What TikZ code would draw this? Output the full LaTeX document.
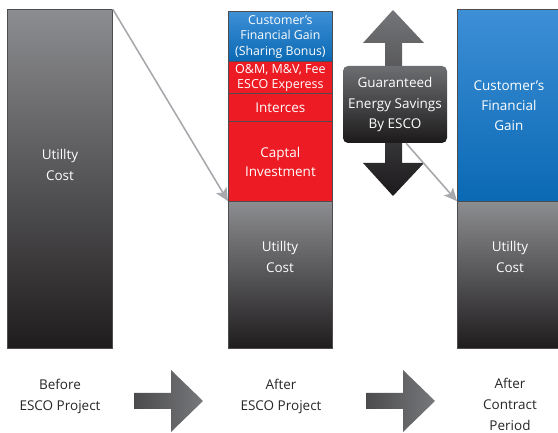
\documentclass[tikz,border=0pt]{standalone}
\usepackage{fontspec}
\setmainfont{Open Sans}
\usetikzlibrary{arrows.meta}

\definecolor{costtop}{HTML}{8C8D90}
\definecolor{costbot}{HTML}{1F1C1D}
\definecolor{gaintop}{HTML}{3D8FD6}
\definecolor{gainbot}{HTML}{0A69B3}
\definecolor{spendred}{HTML}{ED1C24}
\definecolor{linkgray}{HTML}{A7A9AC}
\definecolor{edgegray}{HTML}{4D4D4F}
\definecolor{boxtop}{HTML}{6D6E71}
\definecolor{boxbot}{HTML}{1C1A1B}
\definecolor{stagetop}{HTML}{77787B}
\definecolor{stagebot}{HTML}{4B4B4D}

\tikzset{
  seg/.style={draw=edgegray, line width=0.8pt, inner sep=0pt, anchor=south west,
    text=white, align=center, font=\fontsize{13.5}{19}\selectfont},
  cost/.style={seg, top color=costtop, bottom color=costbot},
  gain/.style={seg, top color=gaintop, bottom color=gainbot},
  spend/.style={seg, fill=spendred},
  lbl/.style={align=center, text=white, font=\fontsize{13.5}{21}\selectfont},
  stage/.style={align=center, inner sep=1pt, text=black!85,
    font=\fontsize{13.5}{21}\selectfont},
  link/.style={draw=linkgray, line width=1.6pt,
    -{Stealth[length=13pt,width=12pt,inset=3pt]}},
}

\begin{document}
\begin{tikzpicture}[x=1pt,y=1pt]
\useasboundingbox (0,0) rectangle (558,433);

% before the project
\node[cost, minimum width=105pt, minimum height=339pt] (before) at (7,84) {};
\node[lbl] (costA) at (60,268) {Utillty\\Cost};

% after the project
\node[cost, minimum width=104pt, minimum height=147pt] (utilB) at (228,84) {};
\node[spend, minimum width=104pt, minimum height=80pt] (capex) at (228,231)
  {Captal\\Investment};
\node[spend, minimum width=104pt, minimum height=28pt] (interest) at (228,311)
  {Interces};
\node[spend, minimum width=104pt, minimum height=32pt, font=\fontsize{12.5}{15}\selectfont]
  (omfee) at (228,339) {O\&M, M\&V, Fee\\ESCO Experess};
\node[gain, minimum width=104pt, minimum height=50pt, font=\fontsize{12.3}{15.5}\selectfont]
  (bonus) at (228,371) {Customer’s\\Financial Gain\\(Sharing Bonus)};
\node[lbl] (costB) at (280,176) {Utillty\\Cost};

% after the contract
\node[cost, minimum width=103pt, minimum height=147pt] (utilC) at (457,84) {};
\node[gain, minimum width=103pt, minimum height=192pt, font=\fontsize{13.5}{20}\selectfont]
  (gainC) at (457,231) {Customer’s\\Financial\\Gain};
\node[lbl] (costC) at (510,176) {Utillty\\Cost};

% savings arrow and box
\shade[top color=boxtop!95, bottom color=boxbot]
  (393,423) -- (424,390) -- (402,390) -- (402,270) -- (424,270) -- (393,237)
  -- (363,270) -- (385,270) -- (385,390) -- (363,390) -- cycle;
\node[lbl, rounded corners=5pt, minimum width=104pt, minimum height=77pt,
  top color=boxtop, bottom color=boxbot] (savings) at (395,328.5)
  {Guaranteed\\Energy Savings\\By ESCO};

% links
\draw[link] (before.north east) -- (utilB.north west);
\draw[link] (savings.-74) -- (utilC.north west);

% stages
\foreach \dx in {0,232}
  \shade[left color=stagebot, right color=stagetop]
    (134+\dx,24) -- (171+\dx,24) -- (171+\dx,1) -- (203+\dx,32)
    -- (171+\dx,63) -- (171+\dx,40) -- (134+\dx,40) -- cycle;
\node[stage] (stageA) at (60,37) {Before\\ESCO Project};
\node[stage] (stageB) at (281,37) {After\\ESCO Project};
\node[stage] (stageC) at (510,29) {After\\Contract\\Period};
\end{tikzpicture}
\end{document}
